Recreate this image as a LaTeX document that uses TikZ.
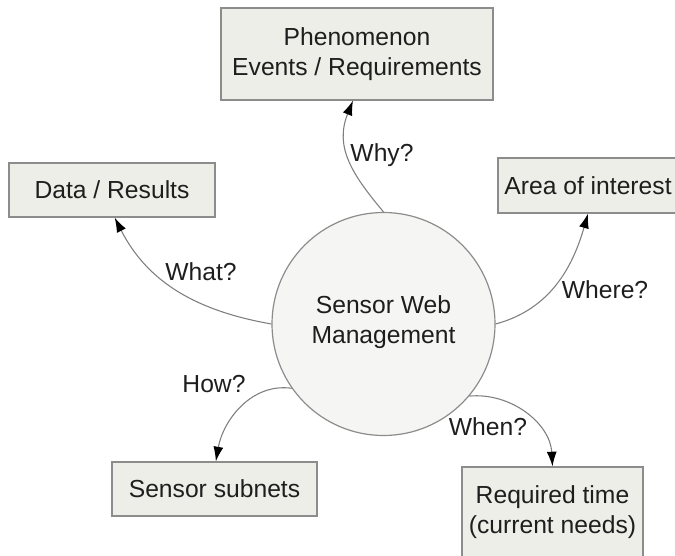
\documentclass[tikz,border=0pt]{standalone}
\usepackage{fontspec}
\setmainfont{Liberation Sans}
\usetikzlibrary{arrows.meta}
\definecolor{boxfill}{HTML}{EEEEE8}
\definecolor{boxline}{HTML}{8C8C8C}
\definecolor{circfill}{HTML}{F5F5F3}
\definecolor{conline}{HTML}{7E7E7E}
\definecolor{txt}{HTML}{1E1E1E}
\tikzset{
  every node/.style={text=txt, font=\fontsize{18.5pt}{22.5pt}\selectfont},
  infobox/.style={draw=boxline, fill=boxfill, line width=0.9pt, align=center, inner sep=0pt},
  hub/.style={circle, draw=boxline, fill=circfill, line width=0.9pt, align=center, inner sep=0pt, minimum size=167.25pt},
  conn/.style={draw=conline, line width=0.8pt, -{Latex[length=11pt,width=7.5pt,color=black]}},
  qlabel/.style={inner sep=0pt}
}
\begin{document}
\begin{tikzpicture}[x=0.75pt,y=-0.75pt]
\useasboundingbox (0,0) rectangle (675,556);
\clip (0,0) rectangle (675,556);
\node[hub] (c) at (383.5,324) {};
\node[align=center, inner sep=0pt] at (383.5,322.5) (ctext) {Sensor Web\\Management};
\node[infobox, minimum width=204pt, minimum height=69pt] (phen) at (357,54) {Phenomenon\\Events / Requirements};
\node[infobox, minimum width=154.5pt, minimum height=40.5pt] (data) at (112,190) {Data / Results};
\node[infobox, minimum width=135pt, minimum height=41.25pt] (area) at (588,185.5) {Area of interest};
\node[infobox, minimum width=153.75pt, minimum height=40.5pt] (sub) at (214.5,489) {Sensor subnets};
\node[infobox, minimum width=135.75pt, minimum height=67.5pt] (req) at (552.5,512) {Required time\\(current needs)};
\draw[conn] (c.90) to[out=130,in=-112,looseness=1.1] ([xshift=-3pt]phen.south);
\draw[conn] (c.180) to[out=170,in=-63] ([xshift=2pt]data.south);
\draw[conn] (c.0) to[out=15,in=-106] (area.south);
\draw[conn] (c.215) to[out=172,in=80] ([xshift=1pt]sub.north);
\draw[conn] (c.-40) to[out=5,in=93] (req.north);
\node[qlabel] (why) at (382,155) {Why?};
\node[qlabel] (what) at (201,272) {What?};
\node[qlabel] (where) at (605,290) {Where?};
\node[qlabel] (how) at (214,384) {How?};
\node[qlabel] (when) at (488,427) {When?};
\end{tikzpicture}
\end{document}
